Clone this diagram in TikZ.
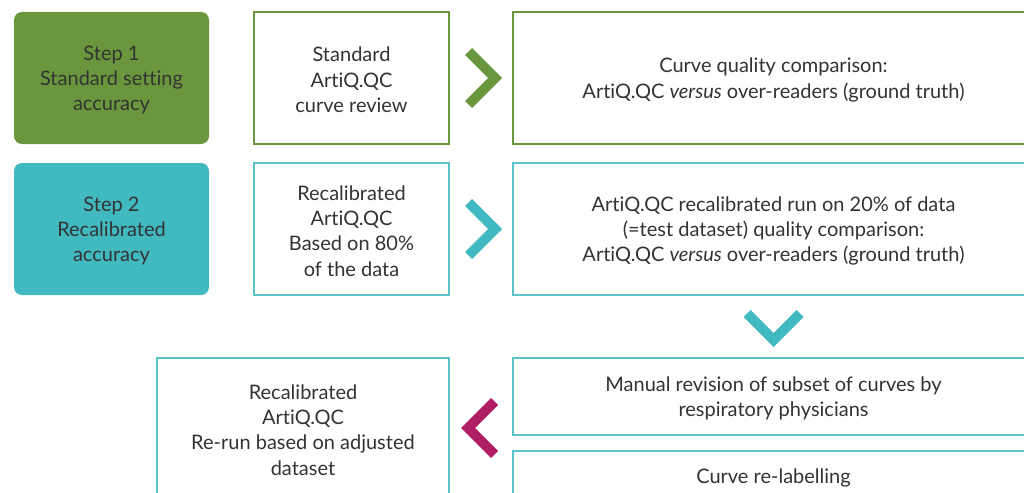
\documentclass[tikz,border=0pt]{standalone}
\usepackage{fontspec}
\setmainfont{Lato}[Ligatures={NoCommon}]
\usetikzlibrary{calc}
\definecolor{stepgreen}{HTML}{6A973D}
\definecolor{stepteal}{HTML}{41B9C0}
\definecolor{lineteal}{HTML}{5BC2C9}
\definecolor{chevmag}{HTML}{B01F66}
\definecolor{txt}{HTML}{333333}
\tikzset{
  stepbox/.style={rounded corners=8pt, draw=none, minimum width=195pt, inner sep=0pt},
  flowbox/.style={draw, line width=1.4pt, fill=white, inner sep=0pt},
  boxtext/.style={inner sep=0pt, align=center, text=txt, font=\fontsize{20}{25.4}\selectfont}
}
\newcommand{\boxlabel}[2]{\node[boxtext] at ([yshift=-2pt]#1.center) {#2};}
\newcommand{\AQ}{Art\kern0pt i\kern0pt Q.QC}
\begin{document}
\begin{tikzpicture}[x=1pt,y=-1pt]
\useasboundingbox (0,0) rectangle (1024,492);
\clip (0,0) rectangle (1024,492);
\fill[white] (0,0) rectangle (1024,492);
% row 1
\node[stepbox, fill=stepgreen, minimum height=132pt] (s1) at (111.5,78) {};
\node[flowbox, draw=stepgreen, minimum width=195pt, minimum height=132pt] (b1) at (351.5,78) {};
\node[flowbox, draw=stepgreen, minimum width=521pt, minimum height=132pt] (c1) at (773.5,78) {};
% row 2
\node[stepbox, fill=stepteal, minimum height=132pt] (s2) at (111.5,229) {};
\node[flowbox, draw=lineteal, minimum width=195pt, minimum height=132pt] (b2) at (351.5,229) {};
\node[flowbox, draw=lineteal, minimum width=521pt, minimum height=132pt] (c2) at (773.5,229) {};
% row 3
\node[flowbox, draw=lineteal, minimum width=292pt, minimum height=140pt] (d3) at (303,428) {};
\node[flowbox, draw=lineteal, minimum width=521pt, minimum height=77pt] (e3) at (773.5,396.5) {};
\node[flowbox, draw=lineteal, minimum width=521pt, minimum height=50pt] (f3) at (773.5,476) {};
% texts
\boxlabel{s1}{Step 1\\Standard setting\\accuracy}
\boxlabel{b1}{Standard\\\AQ\\curve review}
\boxlabel{c1}{Curve quality comparison:\\\AQ{} \textit{versus} over-readers (ground truth)}
\boxlabel{s2}{Step 2\\Recalibrated\\accuracy}
\boxlabel{b2}{Recalibrated\\\AQ\\Based on 80\%\\of the data}
\boxlabel{c2}{\AQ{} recalibrated run on 20\% of data\\(=test dataset) quality comparison:\\\AQ{} \textit{versus} over-readers (ground truth)}
\boxlabel{d3}{Recalibrated\\\AQ\\Re-run based on adjusted\\dataset}
\boxlabel{e3}{Manual revision of subset of curves by\\respiratory physicians}
\boxlabel{f3}{Curve re-labelling}
% chevrons
\coordinate (m1) at ($(b1.east)!0.5!(c1.west)$);
\coordinate (m2) at ($(b2.east)!0.5!(c2.west)$);
\coordinate (m3) at ($(c2.south)!0.5!(e3.north)$);
\coordinate (m4) at ($(d3.east)!0.5!(e3.west |- d3.east)$);
\fill[stepgreen, shift={($(m1)+(21,0)$)}] (0,0) -- (-30,-30) -- (-37,-23) -- (-14,0) -- (-37,23) -- (-30,30) -- cycle;
\fill[stepteal, shift={($(m2)+(21,0)$)}] (0,0) -- (-30,-30) -- (-37,-23) -- (-14,0) -- (-37,23) -- (-30,30) -- cycle;
\fill[stepteal, shift={($(m3)+(0,20.5)$)}] (0,0) -- (-30,-30) -- (-23,-37) -- (0,-14) -- (23,-37) -- (30,-30) -- cycle;
\fill[chevmag, shift={($(m4)+(-20,0)$)}] (0,0) -- (30,-30) -- (37,-23) -- (14,0) -- (37,23) -- (30,30) -- cycle;
\end{tikzpicture}
\end{document}
